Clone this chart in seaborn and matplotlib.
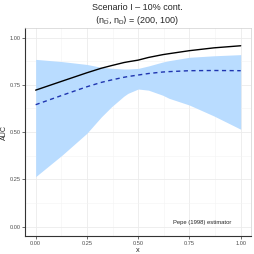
import numpy as np
import pandas as pd
import matplotlib
matplotlib.use("Agg")
import matplotlib.pyplot as plt
import seaborn as sns

# values
x = [0.0, 0.13, 0.25, 0.32, 0.37, 0.43, 0.45, 0.5, 0.55, 0.62, 0.65, 0.75, 0.87, 1.0]
auc_true = [0.722, 0.770, 0.814, 0.838, 0.852, 0.868, 0.872, 0.881, 0.895, 0.910, 0.915, 0.931, 0.946, 0.957]
auc_est = [0.645, 0.695, 0.740, 0.763, 0.776, 0.790, 0.794, 0.802, 0.810, 0.818, 0.820, 0.825, 0.826, 0.825]
band_hi = [0.885, 0.873, 0.858, 0.843, 0.838, 0.834, 0.834, 0.837, 0.850, 0.871, 0.878, 0.896, 0.904, 0.910]
band_lo = [0.264, 0.379, 0.494, 0.580, 0.634, 0.690, 0.705, 0.728, 0.722, 0.695, 0.679, 0.643, 0.585, 0.515]

df = pd.DataFrame({"x": x, "true": auc_true, "est": auc_est, "lo": band_lo, "hi": band_hi})

sns.set_theme(style="whitegrid")
plt.rcParams["font.family"] = ["Liberation Sans", "DejaVu Sans"]

fig = plt.figure(figsize=(2.54, 2.54), dpi=100)
ax = fig.add_axes([0.100, 0.071, 0.888, 0.818])

ax.fill_between(df["x"], df["lo"], df["hi"], color="#b9dcff", linewidth=0, zorder=1)
sns.lineplot(data=df, x="x", y="true", color="black", linewidth=1.0, ax=ax, zorder=3)
sns.lineplot(data=df, x="x", y="est", color="#1f35b0", linewidth=1.0, linestyle=(0, (3, 2.5)), ax=ax, zorder=3)

ax.set_xlim(-0.05, 1.05)
ax.set_ylim(-0.05, 1.05)
ax.set_xticks([0, 0.25, 0.5, 0.75, 1.0])
ax.set_yticks([0, 0.25, 0.5, 0.75, 1.0])
ax.set_xticks([0.125, 0.375, 0.625, 0.875], minor=True)
ax.set_yticks([0.125, 0.375, 0.625, 0.875], minor=True)
ax.set_xticklabels(["0.00", "0.25", "0.50", "0.75", "1.00"])
ax.set_yticklabels(["0.00", "0.25", "0.50", "0.75", "1.00"])
ax.grid(which="major", color="#ebebeb", linewidth=0.6)
ax.grid(which="minor", color="#f3f3f3", linewidth=0.4)
ax.tick_params(which="major", labelsize=4.1, labelcolor="#4d4d4d", length=2, width=0.5,
               color="#333333", pad=1.5, bottom=True, left=True)
ax.tick_params(which="minor", length=0)

for s in ["top", "right"]:
    ax.spines[s].set_color("#d0d0d0")
    ax.spines[s].set_linewidth(0.5)
for s in ["left", "bottom"]:
    ax.spines[s].set_color("#333333")
    ax.spines[s].set_linewidth(0.8)

ax.set_xlabel("x", fontsize=5.3, labelpad=0.5)
ax.set_ylabel("AUC", fontsize=5.1)
ax.yaxis.set_label_coords(-0.077, 0.5)

ax.text(0.814, 0.02, "Pepe (1998) estimator", fontsize=4.2, ha="center", va="center", zorder=4)

fig.text(0.54, 0.961, "Scenario I \u2013 10% cont.", fontsize=6.5, ha="center", va="baseline")
fig.text(0.54, 0.909, r"$(\mathregular{n}_{\bar{\mathregular{D}}}, \mathregular{n}_\mathregular{D})$ = (200, 100)",
         fontsize=6.5, ha="center", va="baseline")

fig.savefig("out.png", dpi=100, facecolor="white")
